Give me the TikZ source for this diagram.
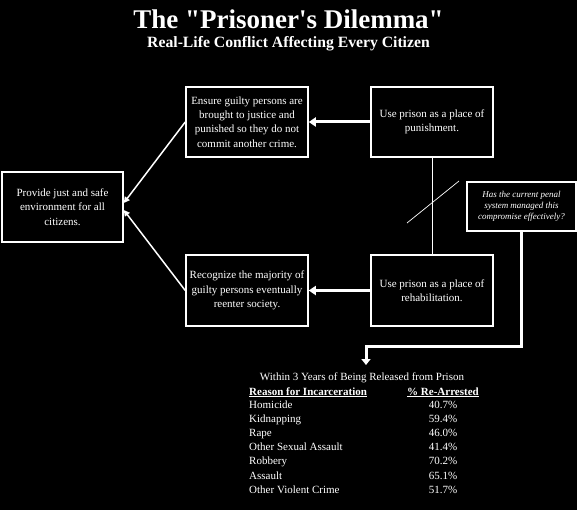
\documentclass[tikz,border=0pt]{standalone}
\usepackage{fontspec}
\setmainfont{Liberation Serif}
\newfontfamily\rawfont{Liberation Serif}
\usetikzlibrary{arrows.meta,calc}
\begin{document}
\begin{tikzpicture}[x=1pt,y=-1pt,
  box/.style={draw=white,line width=1.5pt,text=white,align=center,inner sep=0pt,
    minimum width=122pt,minimum height=70pt,font=\fontsize{11}{14.3}\selectfont},
  thickarrow/.style={draw=white,line width=3pt,-{Triangle[length=7pt,width=9pt]}},
  thinarrow/.style={draw=white,line width=1.5pt,-{Triangle[length=6pt,width=6pt]}},
  txt/.style={text=white,inner sep=0pt,font=\fontsize{11}{13}\selectfont}]
\fill[black] (0,0) rectangle (577,510);
\useasboundingbox (0,0) rectangle (577,510);
% titles
\node[text=white,inner sep=0pt,anchor=base,font=\rawfont\bfseries\fontsize{27}{30}\selectfont] (title) at (288.5,29) {The "Prisoner's Dilemma"};
\node[text=white,inner sep=0pt,anchor=base,font=\bfseries\fontsize{15.7}{18}\selectfont] (subtitle) at (288.5,48) {Real-Life Conflict Affecting Every Citizen};
% boxes
\node[box,minimum width=121pt] (provide) at (62.5,207) {Provide just and safe\\environment for all\\citizens.};
\node[box] (ensure) at (247,122) {Ensure guilty persons are\\brought to justice and\\punished so they do not\\commit another crime.};
\node[box] (punish) at (432,122) {Use prison as a place of\\punishment.};
\node[box,minimum height=71pt] (recog) at (247,290.5) {Recognize the majority of\\guilty persons eventually\\reenter society.};
\node[box,minimum height=71pt] (rehab) at (432,290.5) {Use prison as a place of\\rehabilitation.};
\node[box,minimum width=109pt,minimum height=49pt,font=\itshape\fontsize{9}{11.3}\selectfont] (quest) at (521.5,206.5) {Has the current penal\\system managed this\\compromise effectively?};
% connectors
\draw[thickarrow] (punish.west) -- (ensure.east);
\draw[thickarrow] (rehab.west) -- (recog.east);
\draw[thinarrow] (ensure.west) -- ([yshift=4pt]provide.east);
\draw[thinarrow] (recog.west) -- ([yshift=-3pt]provide.east);
\draw[white,line width=1pt] (punish.south) -- (rehab.north);
\coordinate (d1) at (407,223);
\coordinate (d2) at (459,181);
\draw[white,line width=0.7pt] (d1) -- (d2);
\coordinate (qbend) at (366,346);
\coordinate (qtip) at (366,365);
\draw[white,line width=3pt,-{Triangle[length=6pt,width=9pt]}] (quest.south) |- (qbend) -- (qtip);
% table
\node[txt,anchor=base] (ttitle) at (362,380) {Within 3 Years of Being Released from Prison};
\node[txt,anchor=base west,font=\bfseries\fontsize{11}{13}\selectfont] (h1) at (249,395) {\underline{Reason for Incarceration}};
\node[txt,anchor=base,font=\bfseries\fontsize{11}{13}\selectfont] (h2) at (443,395) {\underline{\% Re-Arrested}};
\foreach \name/\val [count=\i] in {Homicide/40.7\%,Kidnapping/59.4\%,Rape/46.0\%,Other Sexual Assault/41.4\%,Robbery/70.2\%,Assault/65.1\%,Other Violent Crime/51.7\%}{
  \node[txt,anchor=base west] (r\i) at (249,{408+14.2*(\i-1)}) {\name};
  \node[txt,anchor=base] (v\i) at (443,{408+14.2*(\i-1)}) {\val};
}
\end{tikzpicture}
\end{document}
